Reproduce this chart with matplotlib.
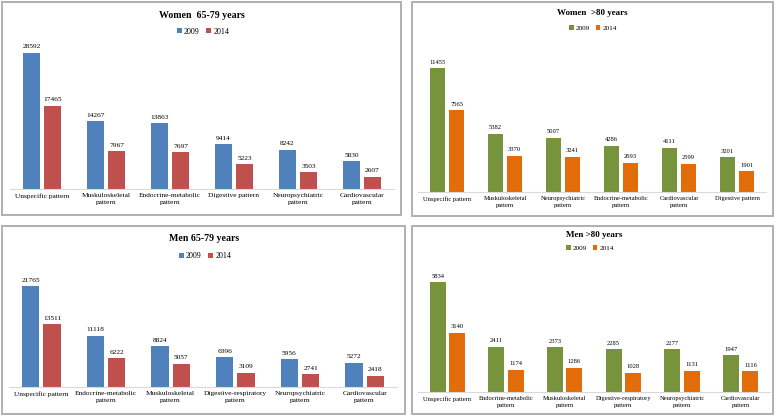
import numpy as np
import matplotlib.pyplot as plt
from matplotlib.patches import Rectangle

plt.rcParams['font.family'] = ['Liberation Serif', 'DejaVu Serif']

W, H = 778, 416

# data
years = ['2009', '2014']

women_6579_cats = ['Unspecific pattern', 'Muskuloskeletal\npattern', 'Endocrine-metabolic\npattern',
                   'Digestive pattern', 'Neuropsychiatric\npattern', 'Cardiovascular\npattern']
women_6579_2009 = [28592, 14267, 13863, 9414, 8242, 5830]
women_6579_2014 = [17465, 7967, 7697, 5223, 3503, 2607]

women_80_cats = ['Unspecific pattern', 'Muskuloskeletal\npattern', 'Neuropsychiatric\npattern',
                 'Endocrine-metabolic\npattern', 'Cardiovascular\npattern', 'Digestive pattern']
women_80_2009 = [11455, 5382, 5007, 4286, 4111, 3201]
women_80_2014 = [7565, 3370, 3241, 2693, 2599, 1901]

men_6579_cats = ['Unspecific pattern', 'Endocrine-metabolic\npattern', 'Muskuloskeletal\npattern',
                 'Digestive-respiratory\npattern', 'Neuropsychiatric\npattern', 'Cardiovascular\npattern']
men_6579_2009 = [21765, 11118, 8824, 6396, 5956, 5272]
men_6579_2014 = [13511, 6222, 5057, 3109, 2741, 2418]

men_80_cats = ['Unspecific pattern', 'Endocrine-metabolic\npattern', 'Muskuloskeletal\npattern',
               'Digestive-respiratory\npattern', 'Neuropsychiatric\npattern', 'Cardiovascular\npattern']
men_80_2009 = [5834, 2411, 2373, 2285, 2277, 1947]
men_80_2014 = [3140, 1174, 1286, 1028, 1131, 1116]

blue, red = '#4F81BD', '#C0504D'
green, orange = '#77933C', '#E36C0A'


def fx(x):
    return x / W


def fy(y):
    return 1 - y / H


fig = plt.figure(figsize=(W / 100, H / 100), dpi=100)


def panel(box, axbox, ymax, title, title_xy, leg_xy, cats, v1, v2, c1, c2, fs):
    # panel frame
    x0, y0, x1, y1 = box
    fig.patches.append(Rectangle((fx(x0), fy(y1)), fx(x1 - x0), (y1 - y0) / H,
                                 transform=fig.transFigure, fill=False,
                                 edgecolor='#B0B0B0', linewidth=1.4))
    l, t, r, b = axbox
    ax = fig.add_axes([fx(l), fy(b), fx(r - l), (b - t) / H])
    x = np.arange(len(cats))
    w = 0.27
    bars1 = ax.bar(x - 0.165, v1, w, color=c1, label=years[0])
    bars2 = ax.bar(x + 0.165, v2, w, color=c2, label=years[1])
    for bars in (bars1, bars2):
        for rect in bars:
            ax.annotate(f'{int(rect.get_height())}',
                        (rect.get_x() + rect.get_width() / 2, rect.get_height()),
                        xytext=(0, 2.5), textcoords='offset points',
                        ha='center', va='bottom', fontsize=fs)
    ax.set_xlim(-0.5, len(cats) - 0.5)
    ax.set_ylim(0, ymax)
    ax.set_xticks(x)
    ax.set_xticklabels(cats, fontsize=fs, linespacing=1.45)
    ax.tick_params(axis='x', length=0, pad=3)
    ax.set_yticks([])
    for s in ['top', 'left', 'right']:
        ax.spines[s].set_visible(False)
    ax.spines['bottom'].set_color('#D9D9D9')
    ax.spines['bottom'].set_linewidth(0.8)
    fig.text(fx(title_xy[0]), fy(title_xy[1]), title, ha='center', va='center',
             fontsize=fs + 1.8, fontweight='bold')
    ax.legend(loc='center', bbox_to_anchor=(fx(leg_xy[0]), fy(leg_xy[1])),
              bbox_transform=fig.transFigure, ncol=2, frameon=False,
              fontsize=fs + 0.5, handlelength=0.6, handleheight=0.6,
              handletextpad=0.3, columnspacing=0.8, borderpad=0)
    return ax


panel((2, 2, 401, 215), (10, 40, 394, 189), 31300, 'Women  65-79 years', (202, 15), (203, 31.5),
      women_6579_cats, women_6579_2009, women_6579_2014, blue, red, 5.3)
panel((412, 2, 773, 216), (418, 45, 766, 192), 13600, 'Women  >80 years', (592, 13), (593, 28),
      women_80_cats, women_80_2009, women_80_2014, green, orange, 4.7)
panel((2, 226, 405, 414), (9, 265, 397, 387), 26370, 'Men 65-79 years', (204, 239), (205, 256),
      men_6579_cats, men_6579_2009, men_6579_2014, blue, red, 5.3)
panel((412, 226, 773, 414), (418, 265, 770, 392), 6755, 'Men >80 years', (594, 235), (590, 248),
      men_80_cats, men_80_2009, men_80_2014, green, orange, 4.7)

fig.savefig('out.png', dpi=100)
